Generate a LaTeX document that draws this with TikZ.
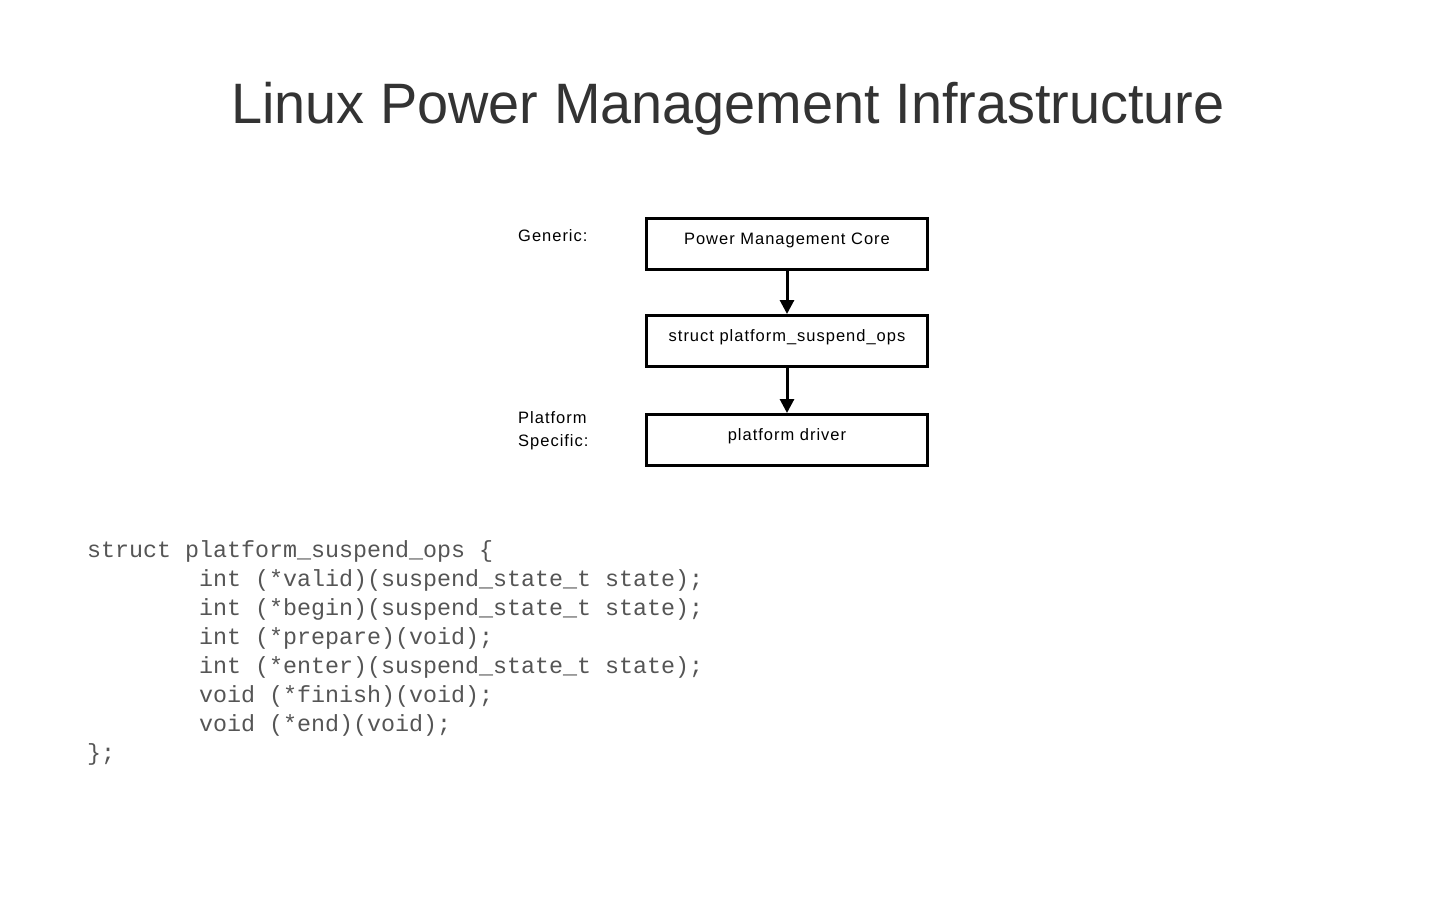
\documentclass[tikz,border=0pt]{standalone}
\usepackage{fontspec}
\setmainfont{Liberation Sans}
\newfontfamily\boxfont[LetterSpace=6]{Liberation Sans}
\newfontfamily\codefont{Liberation Mono}
\usepackage{graphicx}
\definecolor{titleGray}{RGB}{51,51,51}
\definecolor{codeGray}{RGB}{85,85,85}
\usetikzlibrary{positioning,arrows.meta}
\tikzset{
  pmbox/.style={rectangle,draw=black,line width=3pt,
    minimum width=281pt,minimum height=51pt,inner sep=0pt,
    text height=6pt,text depth=6pt,
    font=\boxfont\fontsize{16.5}{20}\selectfont},
  arrow/.style={-{Triangle[length=14pt,width=14pt]},draw=black,line width=3pt},
  sidelabel/.style={anchor=base west,align=left,inner sep=0pt,
    font=\boxfont\fontsize{16.5}{23}\selectfont},
  codetext/.style={anchor=base west,align=left,inner sep=0pt,text=codeGray,
    font=\codefont\fontsize{23.33}{29}\selectfont}
}

\begin{document}
\begin{tikzpicture}[x=1pt,y=-1pt]
  \useasboundingbox[fill=white] (0,0) rectangle (1440,900);
  \node[anchor=base,inner sep=0pt,text=titleGray,font=\fontsize{57}{60}\selectfont] (title)
    at (728,123) {\scalebox{0.98}[1]{Linux Power Management Infrastructure}};
  \node[pmbox] (core) at (787,244) {Power Management Core};
  \node[pmbox, below=43pt of core] (ops) {struct platform\_suspend\_ops};
  \node[pmbox, below=45pt of ops] (driver) {platform driver};
  \node[sidelabel] (generic) at (518,241) {Generic:};
  % base of a two-line node is its last line
  \node[sidelabel] (specific) at (518,446) {Platform\\Specific:};
  \draw[arrow] (core) -- (ops);
  \draw[arrow] (ops) -- (driver);
  \node[codetext] (code) at (87,760)
    {struct platform\_suspend\_ops \{\\
     \hspace*{4.8em}int (*valid)(suspend\_state\_t state);\\
     \hspace*{4.8em}int (*begin)(suspend\_state\_t state);\\
     \hspace*{4.8em}int (*prepare)(void);\\
     \hspace*{4.8em}int (*enter)(suspend\_state\_t state);\\
     \hspace*{4.8em}void (*finish)(void);\\
     \hspace*{4.8em}void (*end)(void);\\
     \};};
\end{tikzpicture}
\end{document}
